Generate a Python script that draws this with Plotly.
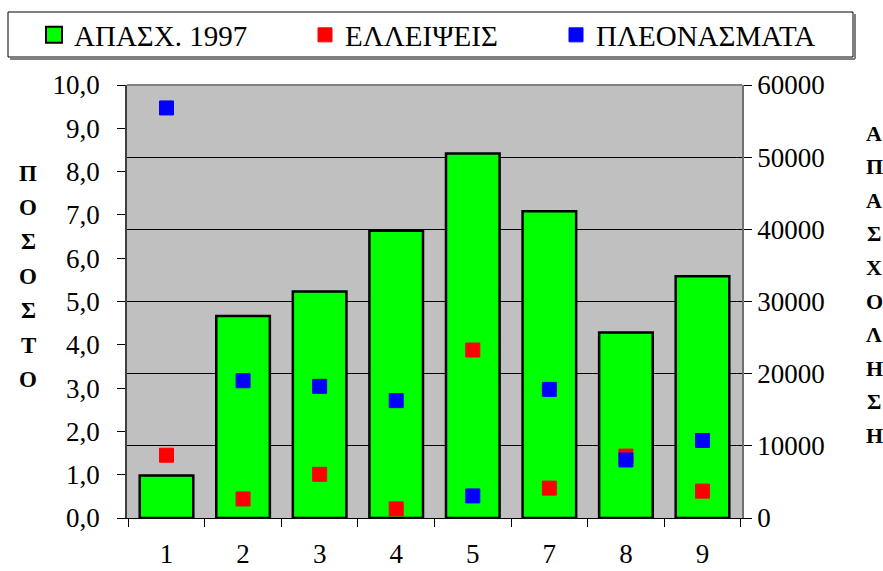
import plotly.graph_objects as go

# categories (x axis)
categories = ["1", "2", "3", "4", "5", "7", "8", "9"]

# employment 1997 (right axis)
employment = [5900, 28000, 31400, 39800, 50500, 42500, 25700, 33500]

# percentages (left axis)
shortages = [1.45, 0.44, 1.01, 0.21, 3.88, 0.69, 1.43, 0.62]
surpluses = [9.47, 3.17, 3.04, 2.71, 0.51, 2.97, 1.34, 1.79]

left_title = "ΠΟΣΟΣΤΟ"
right_title = "ΑΠΑΣΧΟΛΗΣΗ"

FONT = "Liberation Serif, Times New Roman, serif"

W, H = 883, 571
PL, PR, PT, PB = 127, 742, 85, 518


def px_x(x):
    return (x - PL) / (PR - PL)


def px_y(y):
    return (PB - y) / (PB - PT)


fig = go.Figure()

fig.add_trace(
    go.Bar(
        x=categories,
        y=employment,
        name="ΑΠΑΣΧ. 1997",
        yaxis="y",
        showlegend=False,
        marker=dict(color="#00FF00", line=dict(color="black", width=2.5)),
    )
)
# legend entry for the bars (bigger swatch than plotly's bar legend)
fig.add_trace(
    go.Scatter(
        x=[None],
        y=[None],
        name="ΑΠΑΣΧ. 1997",
        mode="markers",
        yaxis="y2",
        legend="legend",
        marker=dict(symbol="square", size=16, color="#00FF00",
                    line=dict(color="black", width=2)),
    )
)
fig.add_trace(
    go.Scatter(
        x=categories,
        y=shortages,
        name="ΕΛΛΕΙΨΕΙΣ",
        mode="markers",
        yaxis="y2",
        legend="legend2",
        marker=dict(symbol="square", size=14, color="#FF0000",
                    line=dict(color="#FF0000", width=1)),
    )
)
fig.add_trace(
    go.Scatter(
        x=categories,
        y=surpluses,
        name="ΠΛΕΟΝΑΣΜΑΤΑ",
        mode="markers",
        yaxis="y2",
        legend="legend3",
        marker=dict(symbol="square", size=14, color="#0000FF",
                    line=dict(color="#0000FF", width=1)),
    )
)

annotations = []
for i, ch in enumerate(left_title):
    annotations.append(dict(
        text="<b>" + ch + "</b>", x=px_x(28), y=px_y(173 + i * 34.4),
        xref="paper", yref="paper",
        showarrow=False, xanchor="center", yanchor="middle",
        font=dict(family=FONT, size=23, color="black"),
    ))
for i, ch in enumerate(right_title):
    annotations.append(dict(
        text="<b>" + ch + "</b>", x=px_x(874), y=px_y(133 + i * 33.6),
        xref="paper", yref="paper",
        showarrow=False, xanchor="center", yanchor="middle",
        font=dict(family=FONT, size=22, color="black"),
    ))


def legend_at(symbol_x):
    return dict(
        orientation="h",
        x=px_x(symbol_x - 20),
        y=px_y(35),
        xanchor="left",
        yanchor="middle",
        borderwidth=0,
        bgcolor="rgba(0,0,0,0)",
        font=dict(family=FONT, size=29, color="black"),
    )


fig.update_layout(
    width=W,
    height=H,
    margin=dict(l=PL, r=W - PR, t=PT, b=H - PB, pad=0, autoexpand=False),
    paper_bgcolor="white",
    plot_bgcolor="#C0C0C0",
    font=dict(family=FONT, size=27, color="black"),
    separators=",.",
    bargap=0.3,
    showlegend=True,
    legend=legend_at(54),
    legend2=legend_at(325),
    legend3=legend_at(576),
    annotations=annotations,
    xaxis=dict(
        type="category",
        categoryorder="array",
        categoryarray=categories,
        showline=True,
        linecolor="black",
        linewidth=1,
        ticks="outside",
        tickson="boundaries",
        ticklen=8,
        tickcolor="black",
        showgrid=False,
        tickfont=dict(size=27),
        ticklabelstandoff=12,
    ),
    yaxis=dict(
        side="right",
        range=[0, 60000],
        dtick=10000,
        showgrid=True,
        gridcolor="black",
        gridwidth=1,
        zeroline=False,
        showline=True,
        linecolor="#707070",
        linewidth=1.5,
        ticks="outside",
        ticklen=8,
        tickcolor="black",
        tickformat="d",
        tickfont=dict(size=27),
    ),
    yaxis2=dict(
        side="left",
        overlaying="y",
        range=[0, 10],
        dtick=1,
        tickformat=".1f",
        showgrid=False,
        zeroline=False,
        showline=True,
        linecolor="#404040",
        linewidth=1.5,
        ticks="outside",
        ticklen=8,
        tickcolor="black",
        tickfont=dict(size=27),
        ticklabelstandoff=12,
    ),
)

# grey top edge of the plot area
fig.add_shape(type="line", xref="paper", yref="paper", x0=0, x1=1, y0=1, y1=1,
              line=dict(color="#808080", width=2))
# legend frame with its shadow
fig.add_shape(type="line", xref="paper", yref="paper",
              x0=px_x(10), x1=px_x(855), y0=px_y(59), y1=px_y(59),
              line=dict(color="#808080", width=2))
fig.add_shape(type="line", xref="paper", yref="paper",
              x0=px_x(855), x1=px_x(855), y0=px_y(14), y1=px_y(59),
              line=dict(color="#808080", width=2))
fig.add_shape(type="rect", xref="paper", yref="paper",
              x0=px_x(8), x1=px_x(853), y0=px_y(12), y1=px_y(57),
              line=dict(color="black", width=1), fillcolor="white")

# the page's default body margin would push the figure 8px in
fig.write_html(
    "out.html",
    config={"displayModeBar": False},
    post_script="document.body.style.margin='0px';",
)
